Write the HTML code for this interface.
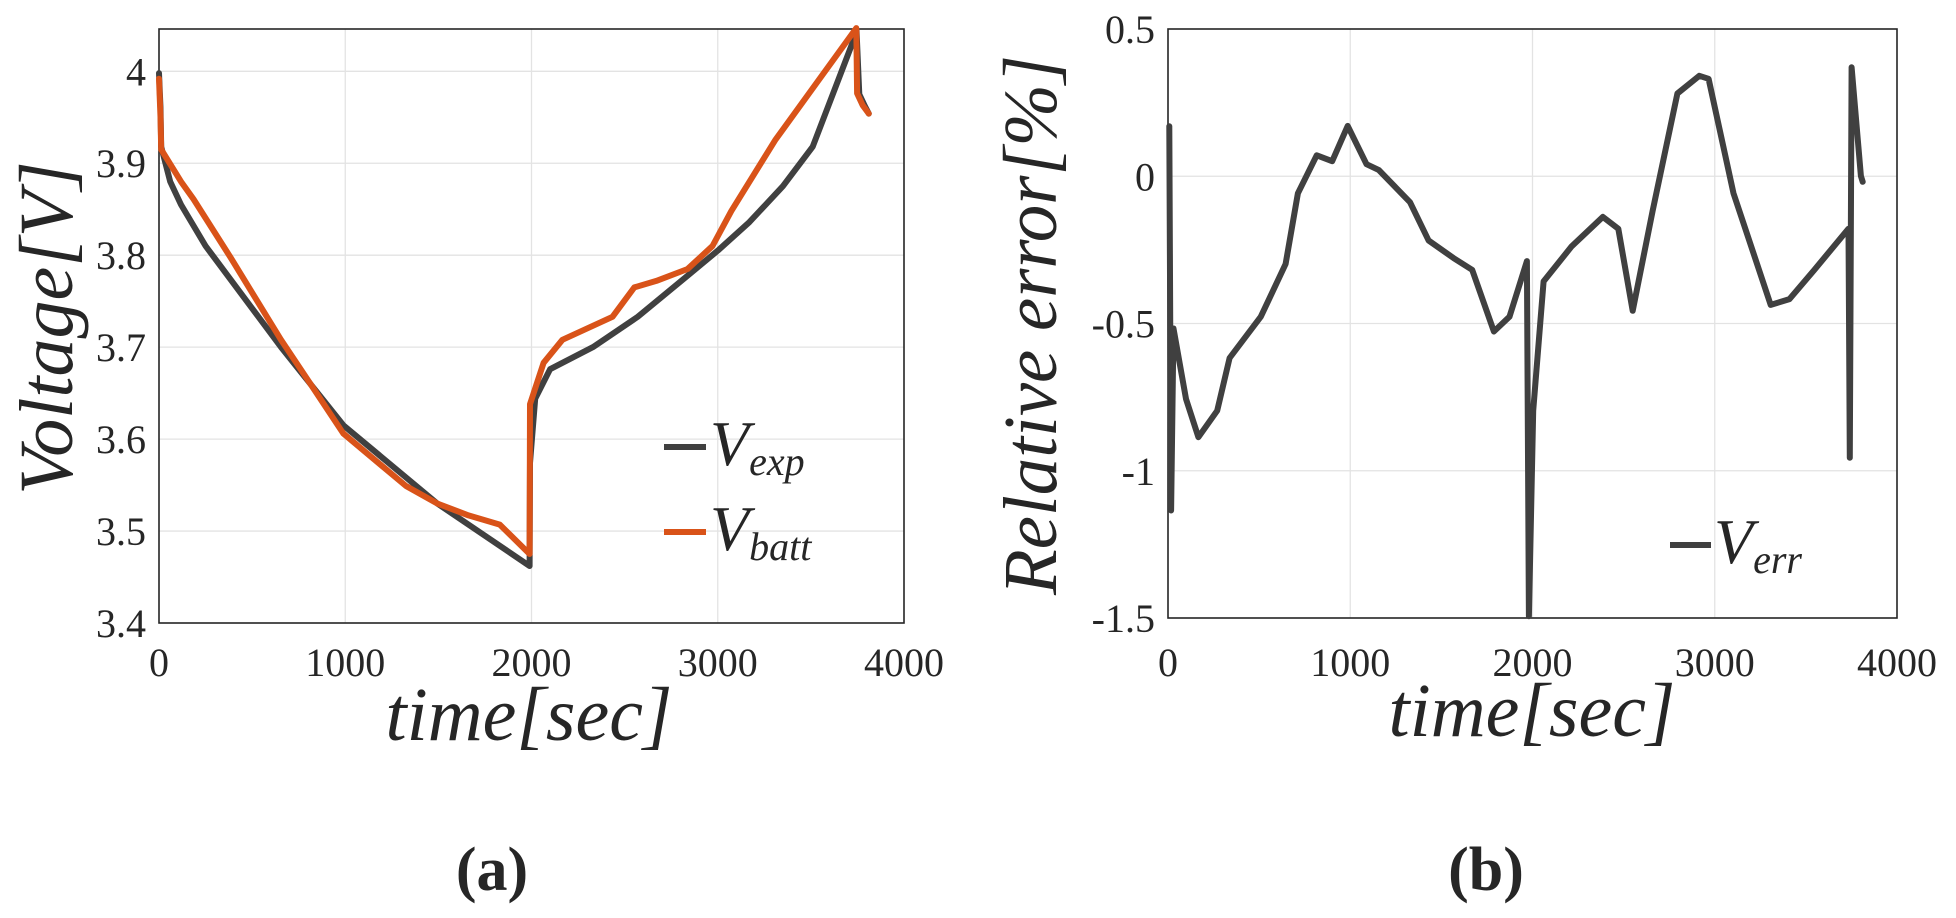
<!DOCTYPE html>
<html><head><meta charset="utf-8"><style>
html,body{margin:0;padding:0;background:#fff;}
svg{display:block;}
text{font-family:"Liberation Serif",serif;fill:#262626;}
</style></head>
<body>
<svg id="fig" width="1956" height="918" viewBox="0 0 1956 918" xmlns="http://www.w3.org/2000/svg">
  <g id="pa"></g>
  <g id="pb"></g>
  <text x="0" y="0" transform="translate(72,328) rotate(-90)" text-anchor="middle" font-size="76" font-style="italic">Voltage[V]</text>
  <text x="529" y="740" text-anchor="middle" font-size="76" font-style="italic">time[sec]</text>
  <text x="0" y="0" transform="translate(1056,325) rotate(-90)" text-anchor="middle" font-size="76" font-style="italic" textLength="540" lengthAdjust="spacingAndGlyphs">Relative error[%]</text>
  <text x="1532" y="736" text-anchor="middle" font-size="76" font-style="italic">time[sec]</text>
  <text x="492" y="890" text-anchor="middle" font-size="62" font-weight="bold">(a)</text>
  <text x="1486" y="890" text-anchor="middle" font-size="62" font-weight="bold">(b)</text>
  <g>
    <line x1="664" y1="447" x2="706" y2="447" stroke="#404040" stroke-width="6"/>
    <text x="710" y="465" font-size="64" font-style="italic">V<tspan font-size="40" dy="10">exp</tspan></text>
    <line x1="664" y1="532" x2="706" y2="532" stroke="#d95319" stroke-width="6"/>
    <text x="710" y="550" font-size="64" font-style="italic">V<tspan font-size="40" dy="10">batt</tspan></text>
  </g>
  <g>
    <line x1="1670" y1="545" x2="1711" y2="545" stroke="#404040" stroke-width="6"/>
    <text x="1714" y="563" font-size="64" font-style="italic">V<tspan font-size="40" dy="10">err</tspan></text>
  </g>
</svg>
<script>
const xTicks = [0, 1000, 2000, 3000, 4000];
const vTicks = [3.4, 3.5, 3.6, 3.7, 3.8, 3.9, 4];
const vTickLabels = ["3.4", "3.5", "3.6", "3.7", "3.8", "3.9", "4"];
const eTicks = [-1.5, -1, -0.5, 0, 0.5];
const eTickLabels = ["-1.5", "-1", "-0.5", "0", "0.5"];
const expT = [0, 8, 12, 60, 118, 250, 655, 990, 1494, 1990, 1992, 2020, 2100, 2330, 2570, 2840, 3000, 3170, 3350, 3510, 3727, 3745, 3760, 3790, 3811];
const expV = [3.998, 3.96, 3.918, 3.88, 3.855, 3.81, 3.70, 3.615, 3.53, 3.462, 3.574, 3.644, 3.676, 3.70, 3.733, 3.778, 3.805, 3.836, 3.875, 3.918, 4.033, 4.045, 3.975, 3.962, 3.954];
const battT = [0, 8, 12, 118, 185, 386, 655, 823, 990, 1326, 1494, 1662, 1830, 1990, 1992, 2065, 2166, 2435, 2552, 2670, 2838, 2972, 3073, 3308, 3744, 3748, 3778, 3811];
const battV = [3.992, 3.95, 3.915, 3.88, 3.861, 3.797, 3.708, 3.657, 3.606, 3.549, 3.53, 3.517, 3.507, 3.475, 3.638, 3.683, 3.708, 3.733, 3.765, 3.772, 3.785, 3.81, 3.848, 3.925, 4.047, 3.976, 3.963, 3.954];
const errT = [7, 17, 30, 99, 167, 270, 338, 509, 645, 713, 816, 901, 986, 1089, 1157, 1328, 1430, 1567, 1669, 1788, 1874, 1969, 1980, 2004, 2061, 2215, 2386, 2471, 2550, 2659, 2795, 2915, 2966, 3103, 3307, 3410, 3546, 3734, 3741, 3751, 3802, 3812];
const errV = [0.17, -1.135, -0.517, -0.756, -0.886, -0.796, -0.617, -0.477, -0.298, -0.058, 0.071, 0.051, 0.171, 0.041, 0.021, -0.088, -0.218, -0.278, -0.318, -0.527, -0.477, -0.288, -1.494, -0.796, -0.357, -0.238, -0.138, -0.178, -0.457, -0.118, 0.281, 0.341, 0.331, -0.058, -0.437, -0.417, -0.318, -0.178, -0.956, 0.370, 0.001, -0.019];

const NS = "http://www.w3.org/2000/svg";
function mk(tag, attrs, parent) {
  const el = document.createElementNS(NS, tag);
  for (const k in attrs) el.setAttribute(k, attrs[k]);
  parent.appendChild(el);
  return el;
}
function drawPanel(g, box, xMin, xMax, yMin, yMax, yT, yL, prefix) {
  const sx = t => box.l + (t - xMin) / (xMax - xMin) * (box.r - box.l);
  const sy = v => box.b - (v - yMin) / (yMax - yMin) * (box.b - box.t);
  xTicks.forEach(t => {
    const gl = mk("line", {x1: sx(t), x2: sx(t), y1: box.t, y2: box.b, stroke: "#e3e3e3", "stroke-width": 1.3}, g);
    
    
    const tx = mk("text", {x: sx(t), y: 676, "text-anchor": "middle", "font-size": 40}, g);
    tx.textContent = String(t);
    
    
  });
  yT.forEach((v, i) => {
    const gl = mk("line", {x1: box.l, x2: box.r, y1: sy(v), y2: sy(v), stroke: "#e3e3e3", "stroke-width": 1.3}, g);
    
    
    const tx = mk("text", {x: box.l - 13, y: sy(v) + 14, "text-anchor": "end", "font-size": 40}, g);
    tx.textContent = yL[i];
    
    
  });
  const fr = mk("rect", {x: box.l, y: box.t, width: box.r - box.l, height: box.b - box.t, fill: "none", stroke: "#262626", "stroke-width": 1.6}, g);
  
  
  return {sx, sy};
}
function drawLine(g, sc, ts, vs, color, name) {
  const d = ts.map((t, i) => (i ? "L" : "M") + sc.sx(t).toFixed(1) + "," + sc.sy(vs[i]).toFixed(1)).join(" ");
  const p = mk("path", {d: d, fill: "none", stroke: color, "stroke-width": 6, "stroke-linejoin": "round", "stroke-linecap": "round"}, g);
  
  
}
const ga = document.getElementById("pa");
const sa = drawPanel(ga, {l: 159, r: 904, t: 29, b: 623}, 0, 4000, 3.4, 4.046, vTicks, vTickLabels, "voltage");
drawLine(ga, sa, expT, expV, "#404040", "series-v-exp");
drawLine(ga, sa, battT, battV, "#d95319", "series-v-batt");
const gb = document.getElementById("pb");
const sb = drawPanel(gb, {l: 1168, r: 1897, t: 29, b: 618}, 0, 4000, -1.5, 0.5, eTicks, eTickLabels, "error");
drawLine(gb, sb, errT, errV, "#404040", "series-v-err");
</script>
</body></html>
